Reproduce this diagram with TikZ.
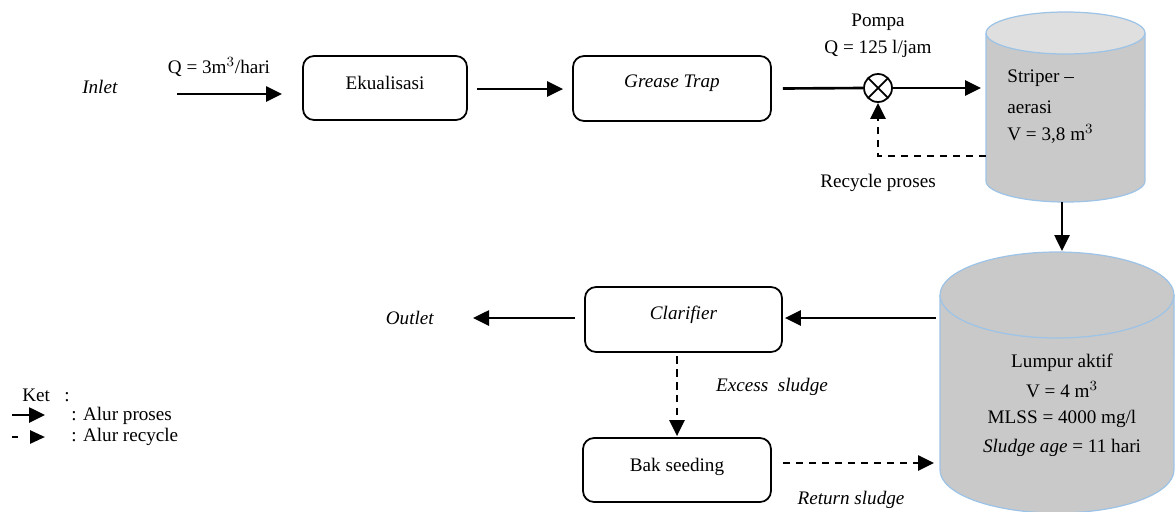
\documentclass[tikz,border=0pt]{standalone}
\usepackage{fontspec}
\setmainfont{Liberation Serif}
\usetikzlibrary{arrows.meta}
\definecolor{cylgray}{HTML}{C9C9C9}
\definecolor{cyltop}{HTML}{DFDFDF}
\definecolor{cylblue}{HTML}{9DC3E6}
\tikzset{
  box/.style={draw, line width=1pt, rounded corners=0.22cm, inner sep=0pt},
  flow/.style={line width=1.5pt, -{Triangle[length=0.32cm,width=0.3cm]}},
  recyc/.style={line width=1.5pt, dash pattern=on 0.15cm off 0.11cm, -{Triangle[length=0.32cm,width=0.3cm]}},
  lbl/.style={inner sep=0pt, font=\fontsize{10.9}{12}\selectfont},
  cyl/.style={fill=cylgray, draw=cylblue, line width=0.7pt},
}
\begin{document}
\begin{tikzpicture}[x=0.02cm,y=-0.02cm]
\useasboundingbox (0,0) rectangle (1176,511);

% process boxes
\node[box, minimum width=3.28cm, minimum height=1.28cm] (ek) at (385,88) {};
\node[lbl] (ekt) at (385,83) {Ekualisasi};
\node[box, minimum width=3.96cm, minimum height=1.30cm] (gt) at (672,88.5) {};
\node[lbl] (gtt) at (672,83) {\textit{Grease Trap}};
\node[box, minimum width=3.94cm, minimum height=1.30cm] (cl) at (683.5,319.5) {};
\node[lbl] (clt) at (683.5,315) {\textit{Clarifier}};
\node[box, minimum width=3.76cm, minimum height=1.28cm] (bs) at (677,470) {};
\node[lbl] (bst) at (677,467) {Bak seeding};

% pump
\node[draw, circle, line width=1pt, minimum size=0.56cm, inner sep=0pt,
      path picture={\draw[line width=1pt] (path picture bounding box.south west) -- (path picture bounding box.north east)
                    (path picture bounding box.north west) -- (path picture bounding box.south east);}] (pump) at (878,88) {};

% cylinder 1 (Striper - aerasi)
\path[cyl] (986,33) -- (986,181) arc[start angle=180,end angle=360,x radius=1.59cm,y radius=0.42cm] -- (1145,33);
\draw[fill=cyltop, draw=cylblue, line width=0.7pt] (1065.5,33) ellipse [x radius=1.59cm, y radius=0.42cm];
\node[lbl, anchor=west] (s1) at (1007,78) {Striper --};
\node[lbl, anchor=west] (s2) at (1007,107) {aerasi};
\node[lbl, anchor=west] (s3) at (1007,134) {V = 3,8 m$^3$};

% cylinder 2 (Lumpur aktif)
\path[cyl] (940,295) -- (940,470) arc[start angle=180,end angle=360,x radius=2.34cm,y radius=0.86cm] -- (1174,295);
\draw[fill=cylgray, draw=cylblue, line width=0.7pt] (1057,295) ellipse [x radius=2.34cm, y radius=0.86cm];
\node[lbl] (l1) at (1062,363) {Lumpur aktif};
\node[lbl] (l2) at (1062,390) {V = 4 m$^3$};
\node[lbl] (l3) at (1062,419) {MLSS = 4000 mg/l};
\node[lbl] (l4) at (1062,448) {\textit{Sludge age} = 11 hari};

% coordinates for connector ends
\coordinate (inA) at (177,94);
\coordinate (inB) at (282,94);
\coordinate (c1in) at (981,88);
\coordinate (c1rec) at (986,156);
\coordinate (reccorner) at (878,156);
\coordinate (c1bot) at (1062,202);
\coordinate (c2top) at (1062,251);
\coordinate (c2left) at (936,318);
\coordinate (c2ret) at (934,463);
\coordinate (outA) at (575,318);
\coordinate (outB) at (473,318);
\coordinate (exA) at (677,356);

% texts
\node[lbl] (inlet) at (100,87) {\textit{Inlet}};
\node[lbl] (qin) at (219,67) {Q = 3m$^3$/hari};
\node[lbl] (pompa) at (878,22) {Pompa};
\node[lbl] (qp) at (878,49) {Q = 125 l/jam};
\node[lbl] (recp) at (878,183) {Recycle proses};
\node[lbl] (outlet) at (410,318) {\textit{Outlet}};
\node[lbl] (exs) at (772,387) {\textit{Excess\ \ sludge}};
\node[lbl] (rets) at (851,500) {\textit{Return sludge}};

% connectors
\draw[flow] (inA) -- (inB);
\draw[flow] ([xshift=0.18cm]ek.east |- 0,89) -- ([xshift=-0.18cm]gt.west |- 0,89);
\draw[line width=1.5pt] ([xshift=0.22cm]gt.east) -- (pump.west);
\draw[flow] (pump.east) -- (c1in);
\draw[recyc] (c1rec) -- (reccorner) -- (pump.south);
\draw[flow] (c1bot) -- (c2top);
\draw[flow] (c2left) -- ([xshift=0.04cm]cl.east |- c2left);
\draw[flow] (outA) -- (outB);
\draw[recyc] (exA) -- ([yshift=0.02cm]bs.north -| exA);
\draw[recyc] ([xshift=0.22cm]bs.east |- c2ret) -- (c2ret);

% legend
\node[lbl, anchor=west] (ket) at (22,395) {Ket\ \ \ :};
\coordinate (la) at (12,415);
\coordinate (lb) at (45,415);
\coordinate (lc) at (12,437);
\coordinate (ld) at (45,437);
\draw[flow] (la) -- (lb);
\draw[line width=1.5pt, dash pattern=on 0.12cm off 0.24cm, -{Triangle[length=0.3cm,width=0.26cm]}] (lc) -- (ld);
\node[lbl, anchor=west] (lt1) at (71,416) {: Alur proses};
\node[lbl, anchor=west] (lt2) at (71,437) {: Alur recycle};
\end{tikzpicture}
\end{document}
